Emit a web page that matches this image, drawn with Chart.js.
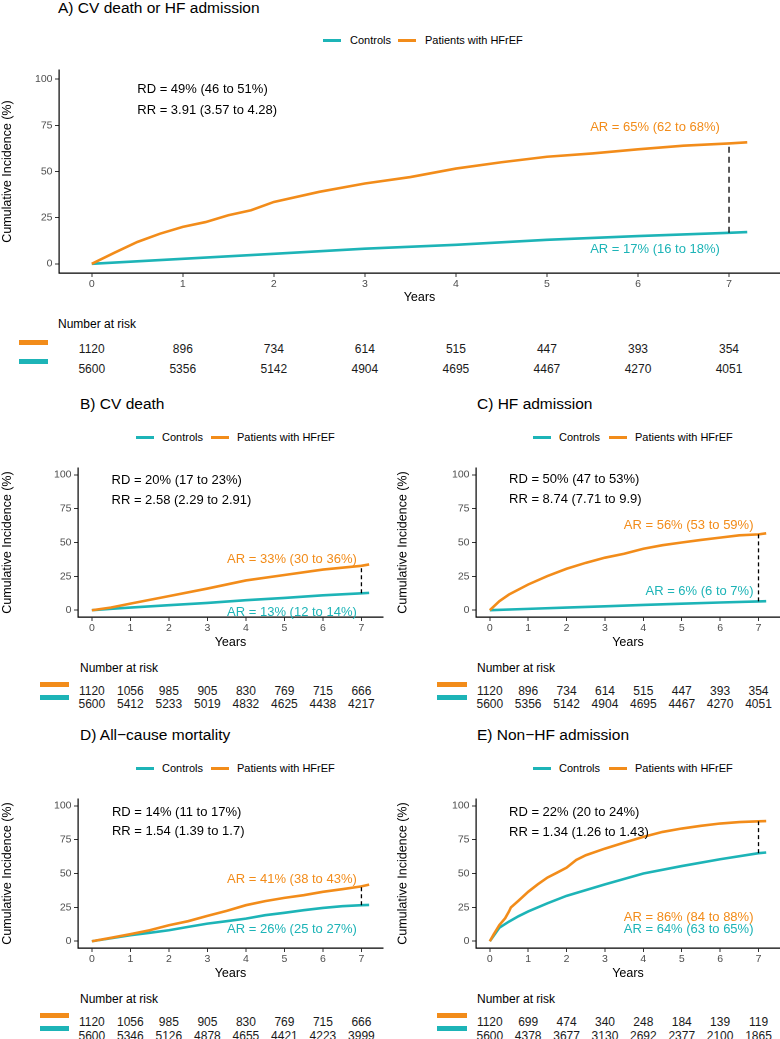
<!DOCTYPE html>
<html><head><meta charset="utf-8">
<script src="https://cdn.jsdelivr.net/npm/chart.js@4.4.1/dist/chart.umd.min.js"></script>
<style>
html,body{margin:0;padding:0;background:#fff;}
body{width:780px;height:1039px;position:relative;overflow:hidden;font-family:"Liberation Sans",Arial,Helvetica,sans-serif;color:#000;}
.t{position:absolute;white-space:nowrap;line-height:1;}
.bar{position:absolute;}
</style>
</head><body>
<script>
// ---------- DATA ----------
const xTicks = [0,1,2,3,4,5,6,7];
const yTicks = [0,25,50,75,100];
const groups = ["Controls","Patients with HFrEF"];

// A) CV death or HF admission
const titleA = "A) CV death or HF admission";
const timeA_hf = [0,0.25,0.5,0.75,1,1.25,1.5,1.75,2,2.5,3,3.5,4,4.5,5,5.5,6,6.5,7,7.2];
const cumA_hf  = [0,6,11.8,16.3,20,22.6,26.3,29,33.5,39,43.5,47,51.6,55,58,59.8,62,64,65.2,65.8];
const timeA_ct = [0,1,2,3,4,5,6,7,7.2];
const cumA_ct  = [0,2.7,5.4,8.2,10.3,13,15,16.8,17.2];
const riskA_hf = [1120,896,734,614,515,447,393,354];
const riskA_ct = [5600,5356,5142,4904,4695,4467,4270,4051];
const statsA = ["RD = 49% (46 to 51%)","RR = 3.91 (3.57 to 4.28)"];
const arA = ["AR = 17% (16 to 18%)","AR = 65% (62 to 68%)"];

// B) CV death
const titleB = "B) CV death";
const timeB_hf = [0,0.5,1,2,3,4,5,6,7,7.2];
const cumB_hf  = [0,2,4.9,10.4,16,22,26,30,32.8,33.8];
const timeB_ct = [0,0.5,1,2,3,4,5,6,7,7.2];
const cumB_ct  = [0,1,2,3.7,5.4,7.4,9.1,11,12.5,12.8];
const riskB_hf = [1120,1056,985,905,830,769,715,666];
const riskB_ct = [5600,5412,5233,5019,4832,4625,4438,4217];
const statsB = ["RD = 20% (17 to 23%)","RR = 2.58 (2.29 to 2.91)"];
const arB = ["AR = 13% (12 to 14%)","AR = 33% (30 to 36%)"];

// C) HF admission
const titleC = "C) HF admission";
const timeC_hf = [0,0.25,0.5,0.75,1,1.5,2,2.5,3,3.5,4,4.5,5,5.5,6,6.5,7,7.2];
const cumC_hf  = [0,6.7,11.6,15.3,19,25.2,30.6,35,38.8,41.7,45.4,48,50,51.9,53.6,55.3,56,56.8];
const timeC_ct = [0,1,2,3,4,5,6,7,7.2];
const cumC_ct  = [0,1,2,2.9,3.9,4.8,5.7,6.5,6.7];
const riskC_hf = [1120,896,734,614,515,447,393,354];
const riskC_ct = [5600,5356,5142,4904,4695,4467,4270,4051];
const statsC = ["RD = 50% (47 to 53%)","RR = 8.74 (7.71 to 9.9)"];
const arC = ["AR = 6% (6 to 7%)","AR = 56% (53 to 59%)"];

// D) All-cause mortality
const titleD = "D) All\u2212cause mortality";
const timeD_hf = [0,0.5,1,1.5,2,2.5,3,3.5,4,4.5,5,5.5,6,6.5,7,7.2];
const cumD_hf  = [0,2.5,5.2,8.1,11.8,14.8,18.7,22.4,26.6,29.6,32,34,36.5,38.4,40.5,41.8];
const timeD_ct = [0,0.5,1,1.5,2,2.5,3,3.5,4,4.5,5,5.5,6,6.5,7,7.2];
const cumD_ct  = [0,2.2,4.4,6.2,8.1,10.6,13,14.8,16.7,19.2,21,22.9,24.6,25.9,26.6,26.8];
const riskD_hf = [1120,1056,985,905,830,769,715,666];
const riskD_ct = [5600,5346,5126,4878,4655,4421,4223,3999];
const statsD = ["RD = 14% (11 to 17%)","RR = 1.54 (1.39 to 1.7)"];
const arD = ["AR = 26% (25 to 27%)","AR = 41% (38 to 43%)"];

// E) Non-HF admission
const titleE = "E) Non\u2212HF admission";
const timeE_hf = [0,0.1,0.25,0.4,0.5,0.55,0.75,1,1.25,1.5,1.75,2,2.25,2.5,3,3.5,4,4.5,5,5.5,6,6.5,7,7.2];
const cumE_hf  = [0,5,12,17,22,25,30,36.5,42,47,50.6,54.3,60,63.5,68.4,72.8,77,80.7,83.2,85.2,86.9,88,88.5,88.7];
const timeE_ct = [0,0.25,0.5,0.75,1,1.5,2,3,4,5,6,7,7.2];
const cumE_ct  = [0,10,14.5,18.5,22,28,33.5,42,50,55.5,60.5,65,65.5];
const riskE_hf = [1120,699,474,340,248,184,139,119];
const riskE_ct = [5600,4378,3677,3130,2692,2377,2100,1865];
const statsE = ["RD = 22% (20 to 24%)","RR = 1.34 (1.26 to 1.43)"];
const arE = ["AR = 64% (63 to 65%)","AR = 86% (84 to 88%)"];

const atYear = 7; // time point of the AR comparison

// ---------- LAYOUT / STYLE ----------
const COL = ['#1DB4B7','#F28C1A'];
const FONT = '"Liberation Sans", Arial, Helvetica, sans-serif';
Chart.defaults.font.family = FONT;

function valAt(times, vals, t){ const i = times.indexOf(t); return vals[i]; }

const panels = [
 {title:titleA, hf:[timeA_hf,cumA_hf], ct:[timeA_ct,cumA_ct], risk:[riskA_hf,riskA_ct], stats:statsA, ar:arA,
  cv:{l:0,t:58,r:780,b:305}, area:{L:59,T:70,R:780,B:273}, ytp:0, dash:[6,4],
  titlePos:{x:58,y:8}, leg:{y:40,x:[323,350,398,425]},
  statPos:[[0.5,95],[0.5,84]], arPos:[[6.9,8.7],[6.9,74.5]],
  rt:{lab:{x:58,y:324}, barX:[19,48], barY:[342.5,361.5], rowY:[349,369]}},
 {title:titleB, hf:[timeB_hf,cumB_hf], ct:[timeB_ct,cumB_ct], risk:[riskB_hf,riskB_ct], stats:statsB, ar:arB,
  cv:{l:0,t:456,r:385,b:650}, area:{L:78,T:468,R:383,B:617}, ytp:0, dash:[4,3],
  titlePos:{x:80,y:404}, leg:{y:437,x:[136,162,211,237]},
  statPos:[[0.51,97],[0.51,82]], arPos:[[6.88,-0.5],[6.88,38.5]],
  rt:{lab:{x:80,y:668}, barX:[40,69], barY:[684,697], rowY:[690.5,704]}},
 {title:titleC, hf:[timeC_hf,cumC_hf], ct:[timeC_ct,cumC_ct], risk:[riskC_hf,riskC_ct], stats:statsC, ar:arC,
  cv:{l:395,t:456,r:780,b:650}, area:{L:476,T:468,R:780,B:617}, ytp:0.5, dash:[4,3],
  titlePos:{x:477,y:404}, leg:{y:437,x:[533,559,609,635]},
  statPos:[[0.5,97.5],[0.5,82.7]], arPos:[[6.87,15.3],[6.87,63.5]],
  rt:{lab:{x:477,y:668}, barX:[437,467], barY:[684,697], rowY:[690.5,704]}},
 {title:titleD, hf:[timeD_hf,cumD_hf], ct:[timeD_ct,cumD_ct], risk:[riskD_hf,riskD_ct], stats:statsD, ar:arD,
  cv:{l:0,t:787,r:385,b:981}, area:{L:78,T:799,R:383,B:948}, ytp:0, dash:[4,3],
  titlePos:{x:80,y:735}, leg:{y:768,x:[136,162,211,237]},
  statPos:[[0.52,96.5],[0.52,82.2]], arPos:[[6.88,10.1],[6.88,46.4]],
  rt:{lab:{x:80,y:999}, barX:[40,69], barY:[1015,1028], rowY:[1022,1036]}},
 {title:titleE, hf:[timeE_hf,cumE_hf], ct:[timeE_ct,cumE_ct], risk:[riskE_hf,riskE_ct], stats:statsE, ar:arE,
  cv:{l:395,t:787,r:780,b:981}, area:{L:476,T:799,R:780,B:948}, ytp:0.5, dash:[4,3],
  titlePos:{x:477,y:735}, leg:{y:768,x:[533,559,609,635]},
  statPos:[[0.5,96.5],[0.5,81.7]], arPos:[[6.87,9.9],[6.87,18.5]],
  rt:{lab:{x:477,y:999}, barX:[437,467], barY:[1015,1028], rowY:[1022,1036]}}
];

function addText(txt, x, y, opts){
  const d = document.createElement('div');
  d.className = 't';
  d.textContent = txt;
  d.style.left = x + 'px';
  d.style.top = y + 'px';
  d.style.fontSize = (opts.size||12) + 'px';
  d.style.color = opts.color || '#000';
  const tx = opts.align === 'center' ? '-50%' : (opts.align === 'right' ? '-100%' : '0');
  d.style.transform = `translate(${tx},-50%)`;
  document.body.appendChild(d);
  return d;
}
function addBar(x1, x2, y, h, color){
  const d = document.createElement('div');
  d.className = 'bar';
  d.style.left = x1 + 'px'; d.style.width = (x2 - x1) + 'px';
  d.style.top = (y - h/2) + 'px'; d.style.height = h + 'px';
  d.style.background = color;
  document.body.appendChild(d);
}

panels.forEach(p => {
  const w = p.cv.r - p.cv.l, h = p.cv.b - p.cv.t;
  const cv = document.createElement('canvas');
  cv.width = w; cv.height = h;
  cv.style.position = 'absolute';
  cv.style.left = p.cv.l + 'px'; cv.style.top = p.cv.t + 'px';
  cv.style.width = w + 'px'; cv.style.height = h + 'px';
  document.body.appendChild(cv);
  const yW = p.area.L - p.cv.l, xH = p.cv.b - p.area.B;
  const toPts = (ts, vs) => ts.map((t,i) => ({x:t, y:vs[i]}));
  const endCt = valAt(p.ct[0], p.ct[1], atYear), endHf = valAt(p.hf[0], p.hf[1], atYear);
  const chart = new Chart(cv, {
    type:'line',
    data:{datasets:[
      {label:'diff', data:[{x:atYear,y:endCt},{x:atYear,y:endHf}], borderColor:'#000', borderWidth:1.3, borderDash:p.dash},
      {label:groups[1], data:toPts(p.hf[0],p.hf[1]), borderColor:COL[1], borderWidth:2.6},
      {label:groups[0], data:toPts(p.ct[0],p.ct[1]), borderColor:COL[0], borderWidth:2.6}
    ]},
    options:{
      responsive:false, animation:false, devicePixelRatio:2,
      layout:{padding:{top:p.area.T - p.cv.t, right:p.cv.r - p.area.R, left:0, bottom:0}},
      plugins:{legend:{display:false}, tooltip:{enabled:false}, title:{display:false}},
      elements:{point:{radius:0}, line:{tension:0, fill:false, borderCapStyle:'butt'}},
      scales:{
        x:{type:'linear', min:-0.36, max:7.56,
           afterBuildTicks:s => { s.ticks = xTicks.map(v => ({value:v})); },
           afterFit:s => { s.height = xH; },
           ticks:{color:'#4D4D4D', font:{size:10.5}, padding:1, maxRotation:0, autoSkip:false},
           grid:{display:true, drawOnChartArea:false, drawTicks:true, tickLength:4, color:'#333', lineWidth:1},
           border:{display:true, color:'#000', width:1.2},
           title:{display:true, text:'Years', color:'#000', font:{size:12.5}, padding:{top:0,bottom:0}}},
        y:{type:'linear', min:-5, max:105,
           afterBuildTicks:s => { s.ticks = yTicks.map(v => ({value:v})); },
           afterFit:s => { s.width = yW; },
           ticks:{color:'#4D4D4D', font:{size:10.5}, padding:2.5, autoSkip:false},
           grid:{display:true, drawOnChartArea:false, drawTicks:true, tickLength:4, color:'#333', lineWidth:1},
           border:{display:true, color:'#000', width:1.2},
           title:{display:true, text:'Cumulative Incidence (%)', color:'#000', font:{size:12.5}, padding:{top:p.ytp,bottom:0}}}
      }
    }
  });
  const xs = chart.scales.x, ys = chart.scales.y;
  const px = v => p.cv.l + xs.getPixelForValue(v);
  const py = v => p.cv.t + ys.getPixelForValue(v);

  // title
  addText(p.title, p.titlePos.x, p.titlePos.y, {size:15.5});
  // legend
  addBar(p.leg.x[0], p.leg.x[0] + 18, p.leg.y, 3, COL[0]);
  addText(groups[0], p.leg.x[1], p.leg.y, {size:11});
  addBar(p.leg.x[2], p.leg.x[2] + 18, p.leg.y, 3, COL[1]);
  addText(groups[1], p.leg.x[3], p.leg.y, {size:11});
  // stats
  p.stats.forEach((s,i) => addText(s, px(p.statPos[i][0]), py(p.statPos[i][1]), {size:13}));
  // AR labels
  p.ar.forEach((s,i) => addText(s, px(p.arPos[i][0]), py(p.arPos[i][1]), {size:13, color:COL[i], align:'right'}));
  // risk table
  addText('Number at risk', p.rt.lab.x, p.rt.lab.y, {size:12});
  addBar(p.rt.barX[0], p.rt.barX[1], p.rt.barY[0], 5, COL[1]);
  addBar(p.rt.barX[0], p.rt.barX[1], p.rt.barY[1], 5, COL[0]);
  p.risk[0].forEach((n,i) => addText(String(n), px(xTicks[i]), p.rt.rowY[0], {size:12, color:'#1a1a1a', align:'center'}));
  p.risk[1].forEach((n,i) => addText(String(n), px(xTicks[i]), p.rt.rowY[1], {size:12, color:'#1a1a1a', align:'center'}));
});
</script>
</body></html>
